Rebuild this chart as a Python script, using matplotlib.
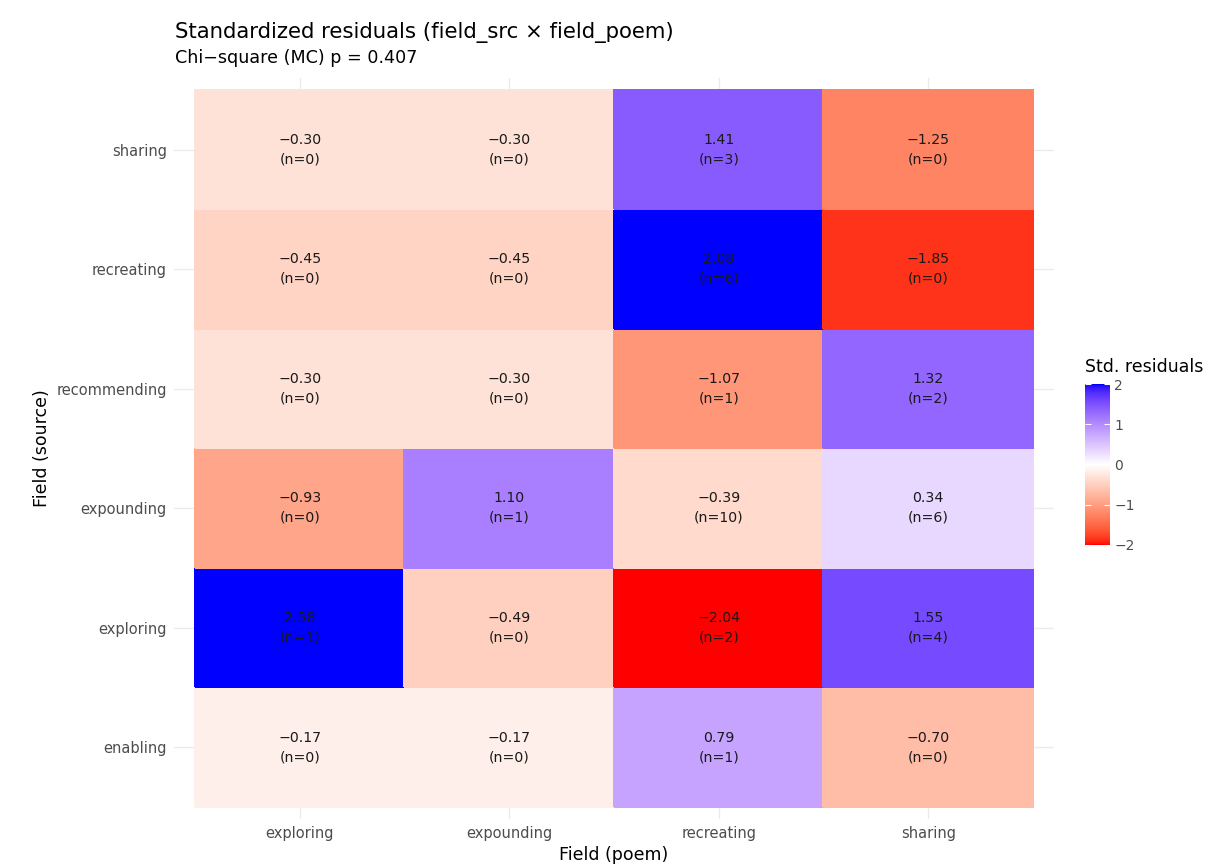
import numpy as np
import matplotlib
matplotlib.use("Agg")
import matplotlib.pyplot as plt
from matplotlib.colors import ListedColormap, Normalize

plt.rcParams['font.family'] = ['DejaVu Sans']

# data (rows = field_src from bottom to top, cols = field_poem)
poem_fields = ['exploring', 'expounding', 'recreating', 'sharing']
src_fields = ['enabling', 'exploring', 'expounding', 'recommending', 'recreating', 'sharing']

residuals = np.array([
    [-0.17, -0.17, 0.79, -0.70],
    [2.58, -0.49, -2.04, 1.55],
    [-0.93, 1.10, -0.39, 0.34],
    [-0.30, -0.30, -1.07, 1.32],
    [-0.45, -0.45, 2.08, -1.85],
    [-0.30, -0.30, 1.41, -1.25],
])
counts = np.array([
    [0, 0, 1, 0],
    [1, 0, 2, 4],
    [0, 1, 10, 6],
    [0, 0, 1, 2],
    [0, 0, 6, 0],
    [0, 0, 3, 0],
])
p_value = 0.407


# red - white - blue ramp interpolated in Lab space (like ggplot's gradient2)
def srgb_to_lab(rgb):
    rgb = np.asarray(rgb, dtype=float)
    lin = np.where(rgb <= 0.04045, rgb / 12.92, ((rgb + 0.055) / 1.055) ** 2.4)
    m = np.array([[0.4124, 0.3576, 0.1805],
                  [0.2126, 0.7152, 0.0722],
                  [0.0193, 0.1192, 0.9505]])
    xyz = lin @ m.T / np.array([0.95047, 1.0, 1.08883])
    f = np.where(xyz > 0.008856, np.cbrt(xyz), 7.787 * xyz + 16 / 116)
    L = 116 * f[..., 1] - 16
    a = 500 * (f[..., 0] - f[..., 1])
    b = 200 * (f[..., 1] - f[..., 2])
    return np.stack([L, a, b], axis=-1)


def lab_to_srgb(lab):
    L, a, b = lab[..., 0], lab[..., 1], lab[..., 2]
    fy = (L + 16) / 116
    fx = fy + a / 500
    fz = fy - b / 200
    f = np.stack([fx, fy, fz], axis=-1)
    xyz = np.where(f ** 3 > 0.008856, f ** 3, (f - 16 / 116) / 7.787)
    xyz = xyz * np.array([0.95047, 1.0, 1.08883])
    minv = np.array([[3.2406, -1.5372, -0.4986],
                     [-0.9689, 1.8758, 0.0415],
                     [0.0557, -0.2040, 1.0570]])
    lin = xyz @ minv.T
    lin = np.clip(lin, 0, 1)
    rgb = np.where(lin <= 0.0031308, 12.92 * lin, 1.055 * lin ** (1 / 2.4) - 0.055)
    return np.clip(rgb, 0, 1)


low, mid, high = srgb_to_lab([1, 0, 0]), srgb_to_lab([1, 1, 1]), srgb_to_lab([0, 0, 1])
t = np.linspace(0, 1, 256)
lab = np.where(t[:, None] < 0.5,
               low + (mid - low) * (t[:, None] / 0.5),
               mid + (high - mid) * ((t[:, None] - 0.5) / 0.5))
cmap = ListedColormap(lab_to_srgb(lab))
norm = Normalize(vmin=-2, vmax=2, clip=True)

fig = plt.figure(figsize=(12.31, 8.67), dpi=100)
ax = fig.add_axes([0.1413, 0.0554, 0.7149, 0.8547])

nx, ny = len(poem_fields), len(src_fields)
xe = np.arange(nx + 1) - 0.5
ye = np.arange(ny + 1) - 0.5
mesh = ax.pcolormesh(xe, ye, residuals, cmap=cmap, norm=norm,
                     edgecolors='face', linewidth=0.2, zorder=2)

for i in range(ny):
    for j in range(nx):
        lbl = f"{residuals[i, j]:.2f}".replace('-', '\u2212')
        ax.text(j, i, f"{lbl}\n(n={counts[i, j]})", ha='center', va='center',
                fontsize=10.2, color='#1A1A1A', linespacing=1.5, zorder=3)

ax.set_xlim(-0.6, nx - 0.4)
ax.set_ylim(-0.6, ny - 0.4)
ax.set_xticks(range(nx))
ax.set_xticklabels(poem_fields)
ax.set_yticks(range(ny))
ax.set_yticklabels(src_fields)
ax.tick_params(length=0, labelsize=10.5, colors='#4D4D4D', pad=5)
ax.grid(True, color='#EBEBEB', linewidth=1, zorder=0)
for s in ax.spines.values():
    s.set_visible(False)

ax.set_xlabel('Field (poem)', fontsize=12.5, color='black', labelpad=4)
ax.set_ylabel('Field (source)', fontsize=12.5, color='black', labelpad=4)

fig.text(0.1421, 0.963, 'Standardized residuals (field_src \u00d7 field_poem)',
         fontsize=15.3, ha='left', va='center')
fig.text(0.1421, 0.933, f'Chi\u2212square (MC) p = {p_value}',
         fontsize=12.6, ha='left', va='center')

# colour bar legend
cax = fig.add_axes([1085 / 1231, 1 - 545 / 867, 25 / 1231, 161 / 867])
cb = fig.colorbar(mesh, cax=cax, ticks=[-2, -1, 0, 1, 2])
cb.outline.set_visible(False)
cb.ax.set_yticklabels(['\u22122', '\u22121', '0', '1', '2'])
cb.ax.tick_params(length=4, color='white', width=0.8, direction='in',
                  left=True, right=True, labelsize=10, colors='#4D4D4D', pad=3)
cb.ax.tick_params(color='white')
fig.text(1085 / 1231, 1 - 367 / 867, 'Std. residuals', fontsize=12.5,
         ha='left', va='center')

fig.savefig('out.png', dpi=100)
